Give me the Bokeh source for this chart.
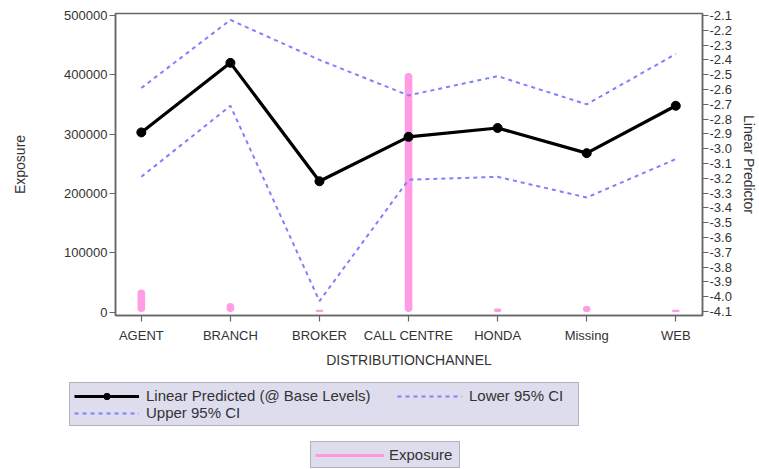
from bokeh.plotting import figure
from bokeh.models import (Range1d, LinearAxis, FixedTicker, PrintfTickFormatter,
                          BasicTickFormatter, Legend, LegendItem, ColumnDataSource)
from bokeh.embed import file_html
from bokeh.resources import INLINE

# ---- data ----
channels = ["AGENT", "BRANCH", "BROKER", "CALL CENTRE", "HONDA", "Missing", "WEB"]
linear_pred = [-2.89, -2.42, -3.22, -2.92, -2.86, -3.03, -2.71]
upper_ci = [-2.59, -2.13, -2.40, -2.64, -2.51, -2.70, -2.36]
lower_ci = [-3.19, -2.71, -4.03, -3.21, -3.19, -3.33, -3.07]
exposure = [38000, 15000, 4000, 403000, 6000, 10000, 4000]
exposure_ticks = [0, 100000, 200000, 300000, 400000, 500000]
lp_ticks = [round(-4.1 + 0.1 * i, 1) for i in range(21)]

xpos = list(range(len(channels)))
src = ColumnDataSource(dict(x=xpos, lp=linear_pred, up=upper_ci, lo=lower_ci, exp=exposure))

FONT = "Liberation Sans"
TXT = "#333333"
AX = "#666666"
PINK = "#FF9CE3"
BLUE = "#8080FF"
DASH = "4 4"
LEGFILL = "#DDDDEE"
LEGBORDER = "#888888"

p = figure(width=759, height=372, output_backend="svg", toolbar_location=None,
           x_range=Range1d(-0.29, 6.30), y_range=Range1d(-5900, 503400),
           min_border_left=115, min_border_right=53, min_border_top=13, min_border_bottom=57)
p.extra_y_ranges = {"lp": Range1d(-4.127, -2.0865)}
p.grid.visible = False
p.outline_line_color = AX
p.outline_line_width = 1.5

# bottom axis
xa = p.xaxis[0]
xa.ticker = FixedTicker(ticks=xpos)
xa.major_label_overrides = {i: c for i, c in enumerate(channels)}
xa.axis_label = "DISTRIBUTIONCHANNEL"

# left axis
ya = p.yaxis[0]
ya.ticker = FixedTicker(ticks=exposure_ticks)
ya.formatter = BasicTickFormatter(use_scientific=False)
ya.axis_label = "Exposure"

# right axis
ra = LinearAxis(y_range_name="lp", axis_label="Linear Predictor",
                ticker=FixedTicker(ticks=lp_ticks), formatter=PrintfTickFormatter(format="%.1f"))
p.add_layout(ra, "right")

for ax in (xa, ya, ra):
    ax.axis_line_color = AX
    ax.axis_line_width = 1.5
    ax.major_tick_line_color = AX
    ax.major_tick_line_width = 1.2
    ax.major_tick_out = 6
    ax.major_tick_in = 0
    ax.minor_tick_line_color = None
    ax.major_label_text_font = FONT
    ax.major_label_text_font_size = "13px"
    ax.major_label_text_color = TXT
    ax.axis_label_text_font = FONT
    ax.axis_label_text_font_size = "14px"
    ax.axis_label_text_font_style = "normal"
    ax.axis_label_text_color = TXT
    ax.major_label_standoff = 2
xa.major_label_standoff = 6
xa.axis_label_standoff = 6
ya.axis_label_standoff = 33
ra.major_label_standoff = 1
ra.axis_label_standoff = 6

p.vbar(x="x", top="exp", bottom=0, width=0.085, source=src,
       fill_color=PINK, line_color=None, border_radius=4)
p.line(x="x", y="up", source=src, y_range_name="lp", line_color=BLUE,
       line_width=2, line_dash=DASH)
p.line(x="x", y="lo", source=src, y_range_name="lp", line_color=BLUE,
       line_width=2, line_dash=DASH)
p.line(x="x", y="lp", source=src, y_range_name="lp", line_color="black", line_width=3.2)
p.scatter(x="x", y="lp", source=src, y_range_name="lp", size=9,
          fill_color="black", line_color="black")

# ---- legend strip below the chart (separate root, frame covers it all) ----
q = figure(width=759, height=97, output_backend="svg", toolbar_location=None,
           x_range=Range1d(-0.29, 6.30), y_range=Range1d(-5900, 503400), min_border=0,
           x_axis_location=None, y_axis_location=None)
q.extra_y_ranges = {"lp": Range1d(-4.127, -2.0865)}
q.grid.visible = False
q.outline_line_color = None

lg_lp_line = q.line(x="x", y="lp", source=src, y_range_name="lp", line_color="black",
                    line_width=3, visible=False)
lg_lp_pts = q.scatter(x="x", y="lp", source=src, y_range_name="lp", size=9,
                      fill_color="black", line_color="black", visible=False)
lg_up = q.line(x="x", y="up", source=src, y_range_name="lp", line_color=BLUE,
               line_width=2, line_dash=DASH, visible=False)
lg_lo = q.line(x="x", y="lo", source=src, y_range_name="lp", line_color=BLUE,
               line_width=2, line_dash=DASH, visible=False)
lg_exp = q.line(x="x", y="exp", source=src, line_color="#FF99DD", line_width=3, visible=False)


def style(leg):
    leg.label_text_font = FONT
    leg.label_text_font_size = "15px"
    leg.label_text_color = TXT
    leg.margin = 0
    leg.spacing = 0
    leg.label_height = 16
    leg.glyph_height = 16
    leg.label_standoff = 7
    leg.glyph_width = 65
    leg.padding = 4


legA = Legend(items=[LegendItem(label="Linear Predicted (@ Base Levels)", renderers=[lg_lp_line, lg_lp_pts]),
                     LegendItem(label="Upper 95% CI", renderers=[lg_up])],
              location=(69, 43), orientation="vertical")
style(legA)
legA.label_width = 428
legA.background_fill_color = LEGFILL
legA.background_fill_alpha = 1
legA.border_line_color = LEGBORDER
legA.border_line_width = 1.5
q.add_layout(legA, "center")

legB = Legend(items=[LegendItem(label="Lower 95% CI", renderers=[lg_lo])],
              location=(393, 61), orientation="vertical")
style(legB)
legB.background_fill_alpha = 0
legB.border_line_alpha = 0
q.add_layout(legB, "center")

legC = Legend(items=[LegendItem(label="Exposure", renderers=[lg_exp])],
              location=(310, 1), orientation="vertical")
style(legC)
legC.glyph_width = 69
legC.label_standoff = 5
legC.label_width = 66
legC.background_fill_color = LEGFILL
legC.background_fill_alpha = 1
legC.border_line_color = LEGBORDER
legC.border_line_width = 1.5
q.add_layout(legC, "center")

open("out.html", "w").write(file_html([p, q], INLINE))
